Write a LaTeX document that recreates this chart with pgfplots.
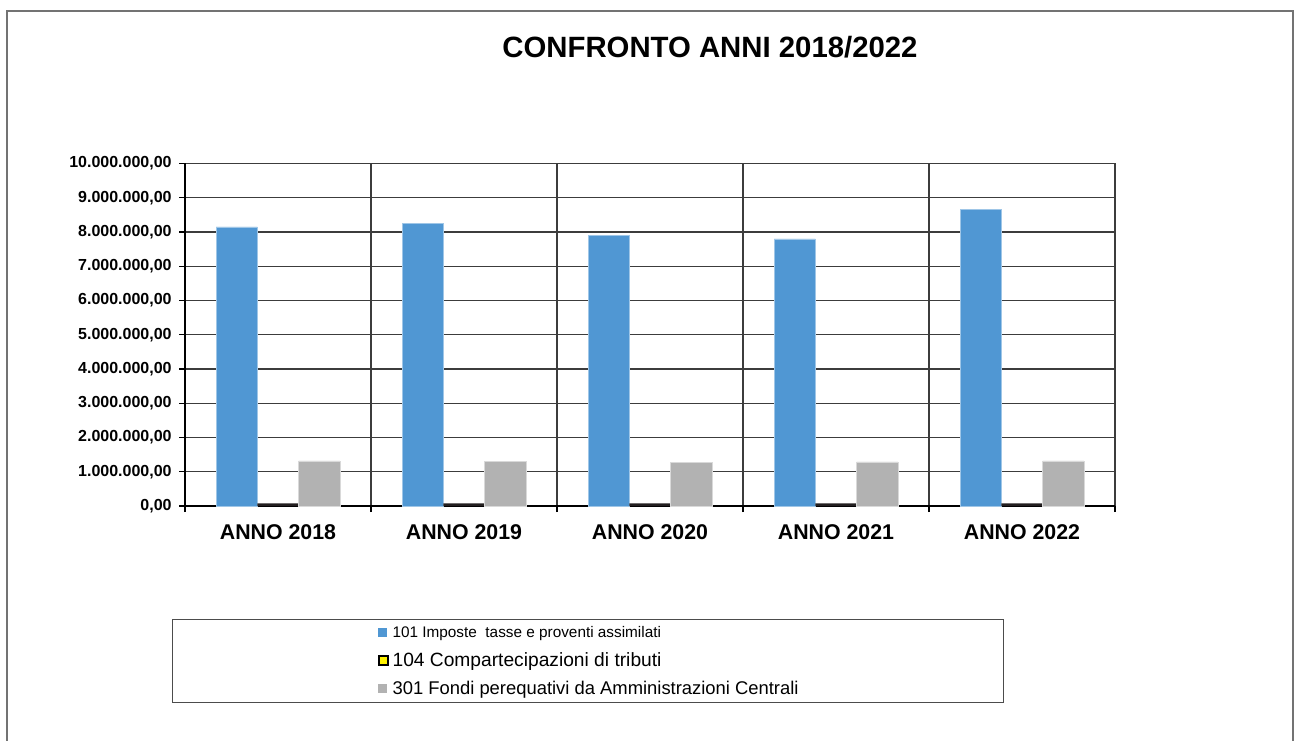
\documentclass[border=0pt]{standalone}
\usepackage{pgfplots}
\pgfplotsset{compat=1.18}
\usepackage{fontspec}
\setmainfont{Liberation Sans}

\definecolor{imposte}{RGB}{80,151,211}
\definecolor{fondi}{RGB}{178,178,178}
\definecolor{compart}{RGB}{35,31,32}
\definecolor{gridc}{RGB}{60,60,60}

\begin{document}
\begin{tikzpicture}
% frame, title and legend box in pixel units of the reference
\begin{scope}[x=0.75pt,y=-0.75pt]
  \useasboundingbox (0,0) rectangle (1294,740);
  \draw[black!55, line width=0.9pt] (7,745) -- (7,11) -- (1293,11) -- (1293,745);
  \node[font=\bfseries\fontsize{22}{26}\selectfont] at (710,47) {CONFRONTO ANNI 2018/2022};
  \draw[black!70, line width=0.7pt] (172,619) rectangle (1003,702);
\end{scope}

\begin{axis}[
    at={(138.75pt,-379.5pt)},
    anchor=south west,
    scale only axis,
    width=697.5pt,
    height=256.9pt,
    ybar,
    bar width=0.222,
    xmin=-0.5, xmax=4.5,
    ymin=0, ymax=10000000,
    ytick distance=1000000,
    scaled y ticks=false,
    axis x line*=bottom,
    axis y line*=left,
    axis line style={black, line width=0.8pt},
    tick align=outside,
    major tick length=4.5pt,
    tick style={black, line width=0.8pt},
    xtick={-0.5,0.5,...,4.5},
    xticklabels={,,,,,},
    extra x ticks={0,1,2,3,4},
    extra x tick labels={ANNO 2018,ANNO 2019,ANNO 2020,ANNO 2021,ANNO 2022},
    extra x tick style={major tick length=0pt, grid=none},
    xticklabel style={font=\bfseries\fontsize{16}{19}\selectfont, yshift=-10.5pt},
    yticklabel style={
        font=\bfseries\fontsize{12}{14}\selectfont,
        xshift=-2pt,
        /pgf/number format/fixed,
        /pgf/number format/fixed zerofill,
        /pgf/number format/precision=2,
        /pgf/number format/use comma,
        /pgf/number format/1000 sep={.},
        /pgf/number format/assume math mode=true,
    },
    xmajorgrids,
    ymajorgrids,
    grid style={gridc, line width=0.8pt},
    legend style={
        at={(0.207,-0.328)},
        anchor=north west,
        draw=none,
        fill=none,
        inner sep=0pt,
        row sep=0pt,
        /tikz/column sep=3pt,
        nodes={minimum height=21pt, inner sep=0pt},
        cells={anchor=west},
    },
    legend cell align={left},
]

% 101 Imposte tasse e proventi assimilati
\addplot[fill=imposte, draw=imposte!55!white, line width=0.4pt, bar shift=-0.222,
    legend image code/.code={\fill[imposte] (0pt,-3pt) rectangle (6pt,3pt);}]
    coordinates {(0,8150000) (1,8240000) (2,7890000) (3,7800000) (4,8670000)};
\addlegendentry{\fontsize{11.5}{13}\selectfont 101 Imposte\ \ tasse e proventi assimilati}

% 104 Compartecipazioni di tributi
\addplot[fill=compart, draw=none, bar shift=0,
    legend image code/.code={\draw[black, line width=1.5pt, fill=yellow] (0.4pt,-3.4pt) rectangle (7pt,3.4pt);}]
    coordinates {(0,80000) (1,80000) (2,80000) (3,80000) (4,80000)};
\addlegendentry{\fontsize{14.4}{16}\selectfont 104 Compartecipazioni di tributi}

% 301 Fondi perequativi da Amministrazioni Centrali
\addplot[fill=fondi, draw=fondi!50!white, line width=0.4pt, bar shift=0.222,
    legend image code/.code={\fill[fondi] (0pt,-3pt) rectangle (6pt,3pt);}]
    coordinates {(0,1315000) (1,1300000) (2,1270000) (3,1290000) (4,1315000)};
\addlegendentry{\fontsize{13.8}{16}\selectfont 301 Fondi perequativi da Amministrazioni Centrali}

\end{axis}
\end{tikzpicture}
\end{document}
